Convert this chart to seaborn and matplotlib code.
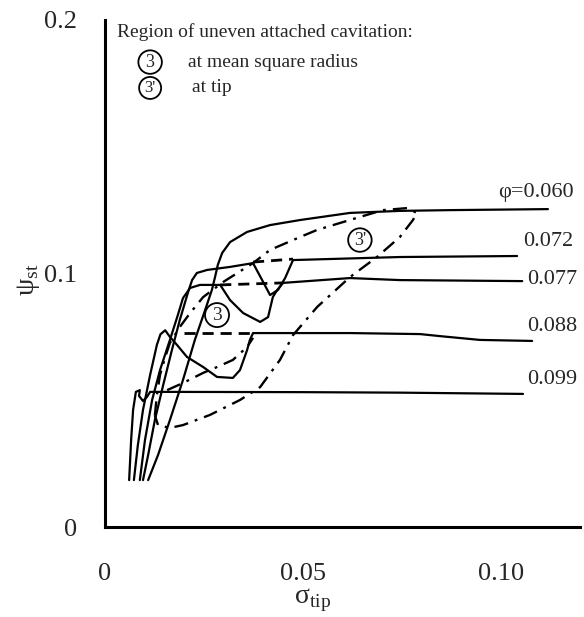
import matplotlib
matplotlib.use("Agg")
import matplotlib.pyplot as plt
import seaborn as sns
from matplotlib.ticker import MultipleLocator, FixedLocator

# ---- head curves psi_st(sigma_tip) for each flow coefficient ----
phi_values = ["0.060", "0.072", "0.077", "0.088", "0.099"]

phi060_sigma = [0.0109, 0.0134, 0.0164, 0.0197, 0.0227, 0.0253, 0.0270, 0.0278, 0.0285, 0.0296,
                0.0316, 0.0359, 0.0417, 0.0493, 0.0619, 0.0745, 0.0872, 0.1119]
phi060_psi = [0.0185, 0.0284, 0.0422, 0.0580, 0.0738, 0.0856, 0.0935, 0.0986, 0.1034, 0.1081,
              0.1124, 0.1164, 0.1191, 0.1211, 0.1239, 0.1247, 0.1250, 0.1254]

phi072_sigma = [0.0096, 0.0109, 0.0126, 0.0147, 0.0169, 0.0189, 0.0210, 0.0220, 0.0232, 0.0258,
                0.0316, 0.0374, 0.0397, 0.0417, 0.0437, 0.0455, 0.0475, 0.0745, 0.1041]
phi072_psi = [0.0185, 0.0284, 0.0422, 0.0560, 0.0698, 0.0817, 0.0927, 0.0974, 0.1002, 0.1014,
              0.1026, 0.1041, 0.0974, 0.0915, 0.0935, 0.0982, 0.1053, 0.1065, 0.1069]

phi077_sigma = [0.0088, 0.0101, 0.0119, 0.0139, 0.0164, 0.0184, 0.0197, 0.0215, 0.0240, 0.0291,
                0.0316, 0.0349, 0.0392, 0.0412, 0.0424, 0.0435, 0.0450, 0.0619, 0.0745, 0.1054]
phi077_psi = [0.0185, 0.0343, 0.0501, 0.0619, 0.0738, 0.0836, 0.0903, 0.0943, 0.0955, 0.0955,
              0.0895, 0.0844, 0.0809, 0.0828, 0.0907, 0.0935, 0.0963, 0.0982, 0.0974, 0.0970]

phi088_sigma = [0.0073, 0.0083, 0.0096, 0.0114, 0.0131, 0.0140, 0.0152, 0.0164, 0.0182, 0.0207,
                0.0248, 0.0283, 0.0323, 0.0341, 0.0359, 0.0366, 0.0374, 0.0619, 0.0796, 0.0846,
                0.0947, 0.1079]
phi088_psi = [0.0185, 0.0323, 0.0462, 0.0600, 0.0718, 0.0760, 0.0776, 0.0750, 0.0718, 0.0671,
              0.0631, 0.0592, 0.0588, 0.0619, 0.0698, 0.0738, 0.0765, 0.0765, 0.0761, 0.0753,
              0.0738, 0.0734]

phi099_sigma = [0.0061, 0.0066, 0.0071, 0.0078, 0.0088, 0.0086, 0.0096, 0.0106, 0.0114, 0.0147,
                0.0493, 0.0745, 0.1056]
phi099_psi = [0.0185, 0.0343, 0.0462, 0.0533, 0.0540, 0.0517, 0.0497, 0.0513, 0.0533, 0.0533,
              0.0532, 0.0530, 0.0525]

# ---- dashed chords across the region of uneven cavitation at mean square radius ----
chord072_sigma = [0.0374, 0.0475]
chord072_psi = [0.1045, 0.1057]
chord077_sigma = [0.0291, 0.0450]
chord077_psi = [0.0955, 0.0963]
chord088_sigma = [0.0200, 0.0374]
chord088_psi = [0.0765, 0.0765]

# ---- dash-dot boundary of the region at the tip ----
tip_sigma = [0.0126, 0.0131, 0.0139, 0.0152, 0.0164, 0.0189, 0.0215, 0.0248, 0.0298, 0.0374,
             0.0417, 0.0493, 0.0536, 0.0644, 0.0702, 0.0763, 0.0788, 0.0778, 0.0745, 0.0687,
             0.0619, 0.0536, 0.0475, 0.0442, 0.0392, 0.0341, 0.0265, 0.0197, 0.0164, 0.0134,
             0.0126]
tip_psi = [0.0440, 0.0520, 0.0600, 0.0670, 0.0726, 0.0789, 0.0844, 0.0907, 0.0966, 0.1041,
           0.1093, 0.1144, 0.1172, 0.1223, 0.1250, 0.1258, 0.1239, 0.1211, 0.1144, 0.1065,
           0.0986, 0.0868, 0.0757, 0.0659, 0.0552, 0.0501, 0.0442, 0.0402, 0.0391, 0.0402,
           0.0440]
tip_inner_sigma = [0.0157, 0.0197, 0.0248, 0.0283, 0.0323, 0.0359, 0.0374]
tip_inner_psi = [0.0540, 0.0568, 0.0608, 0.0631, 0.0659, 0.0710, 0.0746]

# label anchors (sigma, psi) for the flow coefficients
label_sigma = [0.0993, 0.1056, 0.1066, 0.1066, 0.1066]
label_psi = [0.1320, 0.1125, 0.0975, 0.0790, 0.0580]

sns.set_style("white")
plt.rcParams["font.family"] = ["Liberation Serif", "DejaVu Serif"]
plt.rcParams["mathtext.fontset"] = "custom"
plt.rcParams["mathtext.rm"] = "Liberation Serif"

fig = plt.figure(figsize=(5.84, 6.17), dpi=100)
ax = fig.add_axes([105 / 584, 90 / 617, 475 / 584, 507 / 617])

solid_kw = dict(color="black", linewidth=1.6, sort=False, estimator=None, ax=ax)

curves = [(phi060_sigma, phi060_psi), (phi072_sigma, phi072_psi), (phi077_sigma, phi077_psi),
          (phi088_sigma, phi088_psi), (phi099_sigma, phi099_psi)]
for sig, psi in curves:
    sns.lineplot(x=sig, y=psi, **solid_kw)

for sig, psi in [(chord072_sigma, chord072_psi), (chord077_sigma, chord077_psi),
                 (chord088_sigma, chord088_psi)]:
    sns.lineplot(x=sig, y=psi, color="black", linewidth=2.0, linestyle=(0, (4, 2.5)),
                 sort=False, estimator=None, ax=ax)

for sig, psi in [(tip_sigma, tip_psi), (tip_inner_sigma, tip_inner_psi)]:
    sns.lineplot(x=sig, y=psi, color="black", linewidth=1.7, linestyle=(0, (6, 3, 1.2, 3)),
                 sort=False, estimator=None, ax=ax)

# flow-coefficient labels
for i, (lab, sx, sy) in enumerate(zip(phi_values, label_sigma, label_psi)):
    txt = ("φ=" + lab) if i == 0 else lab
    ax.text(sx, sy, txt, fontsize=16, ha="left", va="center")

# circled region markers
circ = dict(boxstyle="circle,pad=0.18", fc="white", ec="black", lw=1.3)
ax.text(0.0283, 0.0836, "3", fontsize=14, ha="center", va="center", bbox=circ)
ax.text(0.0644, 0.1132, "3'", fontsize=13, ha="center", va="center", bbox=circ)

# key in the upper-left corner
ax.text(0.0030, 0.1953, "Region of uneven attached cavitation:", fontsize=14,
        ha="left", va="center")
ax.text(0.0114, 0.1834, "3", fontsize=13, ha="center", va="center", bbox=circ)
ax.text(0.0210, 0.1834, "at mean square radius", fontsize=14, ha="left", va="center")
ax.text(0.0114, 0.1732, "3'", fontsize=12, ha="center", va="center", bbox=circ)
ax.text(0.0220, 0.1732, "at tip", fontsize=14, ha="left", va="center")

ax.set_xlim(0, 0.12)
ax.set_ylim(0, 0.2)

ax.xaxis.set_major_locator(FixedLocator([0, 0.05, 0.10]))
ax.set_xticklabels(["0", "0.05", "0.10"])
ax.xaxis.set_minor_locator(MultipleLocator(0.01))
ax.yaxis.set_major_locator(FixedLocator([0, 0.1, 0.2]))
ax.set_yticklabels(["0", "0.1", "0.2"])
ax.yaxis.set_minor_locator(MultipleLocator(0.02))

ax.tick_params(axis="both", which="major", direction="in", length=5, width=0.8,
               labelsize=19, color="black")
ax.tick_params(axis="x", which="major", pad=26)
ax.tick_params(axis="y", which="major", pad=20)
ax.tick_params(axis="both", which="minor", direction="in", length=3, width=0.6, color="black")

for side in ["top", "right"]:
    ax.spines[side].set_visible(False)
for side in ["left", "bottom"]:
    ax.spines[side].set_linewidth(2.2)
    ax.spines[side].set_color("black")

ax.set_xlabel(r"σ$_{\mathrm{tip}}$", fontsize=20)
ax.xaxis.set_label_coords(0.436, -0.118)
ax.set_ylabel(r"ψ$_{\mathrm{st}}$", fontsize=20)
ax.yaxis.set_label_coords(-0.133, 0.487)

fig.savefig("out.png", dpi=100)
